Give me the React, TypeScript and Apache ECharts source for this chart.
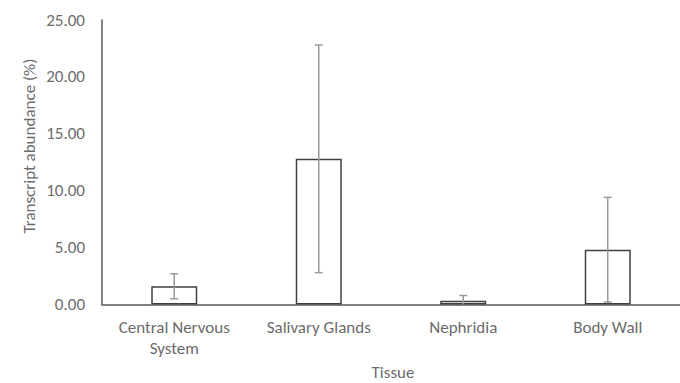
import React, { useEffect, useRef } from "react";
import * as echarts from "echarts";

const categories = ["Central Nervous\nSystem", "Salivary Glands", "Nephridia", "Body Wall"];
const means = [1.6, 12.8, 0.32, 4.81];
const errors = [1.1, 10.0, 0.47, 4.6];
const yTicks = { min: 0, max: 25, interval: 5 };
const xTitle = "Tissue";
const yTitle = "Transcript abundance (%)";

const FONT = "Carlito, Lato, 'Open Sans', sans-serif";
const TEXT = "#6b6b6b";

export default function App() {
  const ref = useRef<HTMLDivElement>(null);
  useEffect(() => {
    document.body.style.margin = "0";
    const chart = echarts.init(ref.current!, null, { renderer: "svg" });
    const errData = means.map((m, i) => [i, Math.max(0, m - errors[i]), m + errors[i], m - errors[i] < 0 ? 0 : 1]);
    chart.setOption({
      animation: false,
      backgroundColor: "#ffffff",
      grid: { left: 102, right: -2, top: 20, bottom: 78.5 },
      xAxis: {
        type: "category",
        data: categories,
        axisTick: { show: false },
        axisLine: { lineStyle: { color: "#595959", width: 1.5 } },
        axisLabel: { color: TEXT, fontFamily: FONT, fontSize: 17, lineHeight: 21, margin: 12 },
      },
      yAxis: {
        type: "value",
        min: yTicks.min,
        max: yTicks.max,
        interval: yTicks.interval,
        splitLine: { show: false },
        axisTick: { show: false },
        axisLine: { show: true, lineStyle: { color: "#595959", width: 1.5 } },
        axisLabel: {
          color: TEXT,
          fontFamily: FONT,
          fontSize: 17,
          margin: 17,
          formatter: (v: number) => v.toFixed(2),
        },
      },
      graphic: [
        {
          type: "text",
          x: 29,
          y: 146,
          rotation: Math.PI / 2,
          style: {
            text: yTitle,
            fill: TEXT,
            font: `17px ${FONT}`,
            textAlign: "center",
            textVerticalAlign: "middle",
          },
        },
        {
          type: "text",
          x: 393,
          y: 372,
          style: {
            text: xTitle,
            fill: TEXT,
            font: `17px ${FONT}`,
            textAlign: "center",
            textVerticalAlign: "middle",
          },
        },
      ],
      series: [
        {
          type: "bar",
          data: means,
          barWidth: 46,
          itemStyle: { color: "#ffffff", borderColor: "#404040", borderWidth: 1.5 },
          silent: true,
        },
        {
          type: "custom",
          data: errData,
          encode: { x: 0, y: [1, 2] },
          renderItem: (params: any, api: any) => {
            const i = api.value(0);
            const lo = api.coord([i, api.value(1)]);
            const hi = api.coord([i, api.value(2)]);
            const showLowCap = api.value(3) === 1;
            const half = 4;
            const style = { stroke: "#9a9a9a", lineWidth: 1.5 };
            const children: any[] = [
              { type: "line", shape: { x1: hi[0], y1: hi[1], x2: lo[0], y2: lo[1] }, style },
              { type: "line", shape: { x1: hi[0] - half, y1: hi[1], x2: hi[0] + half, y2: hi[1] }, style },
            ];
            if (showLowCap) {
              children.push({ type: "line", shape: { x1: lo[0] - half, y1: lo[1], x2: lo[0] + half, y2: lo[1] }, style });
            }
            return { type: "group", children };
          },
          z: 5,
          silent: true,
        },
      ],
    });
    return () => chart.dispose();
  }, []);
  return <div ref={ref} style={{ width: 680, height: 383 }} />;
}
